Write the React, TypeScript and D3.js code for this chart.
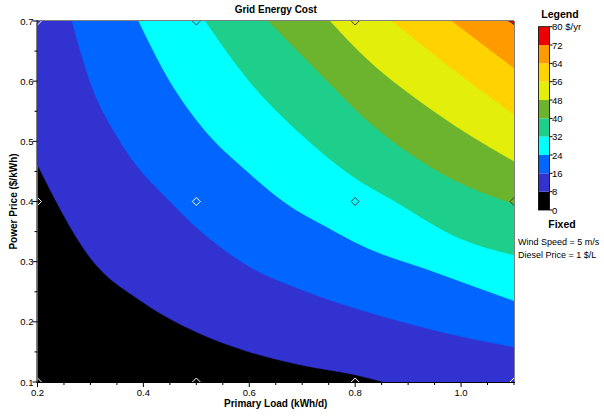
import React from 'react';
import * as d3 from 'd3';

type Pt = [number, number];

// contour levels ($/yr) and legend band colours
const levels = [0, 8, 16, 24, 32, 40, 48, 56, 64, 72, 80];
const bandColors = ['#000000', '#3232d0', '#0066ff', '#00ffff', '#1ecf8c', '#6cb42e', '#e3ef0a', '#ffd200', '#ff9a00', '#ee0000'];

// contour boundaries [load kWh/d, price $/kWh]
const contour8: Pt[] = [[0.2, 0.461], [0.3, 0.306], [0.4, 0.232], [0.5, 0.183], [0.6, 0.15], [0.7, 0.128], [0.8, 0.112], [0.854, 0.1]];
const contour16: Pt[] = [[0.265, 0.7], [0.299, 0.6], [0.356, 0.5], [0.456, 0.395], [0.5, 0.357], [0.6, 0.292], [0.7, 0.253], [0.81, 0.22], [0.95, 0.186], [1.1, 0.158]];
const contour24: Pt[] = [[0.391, 0.7], [0.45, 0.6], [0.507, 0.528], [0.6, 0.447], [0.668, 0.398], [0.75, 0.356], [0.81, 0.328], [0.95, 0.283], [1.1, 0.235]];
const contour32: Pt[] = [[0.517, 0.7], [0.6, 0.6], [0.7, 0.51], [0.8, 0.439], [0.87, 0.403], [1.0, 0.338], [1.1, 0.311]];
const contour40: Pt[] = [[0.636, 0.7], [0.75, 0.598], [0.81, 0.545], [0.957, 0.45], [1.1, 0.396]];
const contour48: Pt[] = [[0.753, 0.7], [0.8, 0.656], [0.957, 0.545], [1.1, 0.467]];
const contour56: Pt[] = [[0.87, 0.7], [0.989, 0.617], [1.1, 0.545]];
const contour64: Pt[] = [[0.983, 0.7], [1.1, 0.622]];
const contour72: Pt[] = [[1.089, 0.7], [1.1, 0.6945]];
const contours = [contour8, contour16, contour24, contour32, contour40, contour48, contour56, contour64, contour72];

// simulated sensitivity points (diamonds)
const simLoads = [0.2, 0.5, 0.8, 1.1];
const simPrices = [0.1, 0.4, 0.7];

const xTickLabels = [0.2, 0.4, 0.6, 0.8, 1.0];
const yTickLabels = [0.1, 0.2, 0.3, 0.4, 0.5, 0.6, 0.7];
const fixedLines = ['Wind Speed = 5 m/s', 'Diesel Price = 1 $/L'];

const W = 604, H = 417;
const FONT = 'Liberation Sans, Arial, sans-serif';

export default function App() {
  const x = d3.scaleLinear().domain([0.2, 1.1]).range([37.5, 514]);
  const y = d3.scaleLinear().domain([0.1, 0.7]).range([382, 21]);
  const [x0, x1] = x.range();
  const [yb, yt] = y.range();

  const line = d3.line<Pt>().x(d => x(d[0])).y(d => y(d[1])).curve(d3.curveMonotoneX);

  const regionPath = (pts: Pt[]) => {
    let p = line(pts) as string;
    const first = pts[0], last = pts[pts.length - 1];
    if (last[1] <= 0.1 + 1e-9) p += `L${x(1.1)},${y(0.1)}`;
    p += `L${x(1.1)},${y(0.7)}`;
    if (first[0] <= 0.2 + 1e-9) p += `L${x(0.2)},${y(0.7)}`;
    return p + 'Z';
  };

  const regionPoly = (pts: Pt[]): [number, number][] => {
    const poly: [number, number][] = pts.map(d => [x(d[0]), y(d[1])]);
    const first = pts[0], last = pts[pts.length - 1];
    if (last[1] <= 0.1 + 1e-9) poly.push([x(1.1), y(0.1)]);
    poly.push([x(1.1), y(0.7)]);
    if (first[0] <= 0.2 + 1e-9) poly.push([x(0.2), y(0.7)]);
    return poly;
  };
  const polys = contours.map(regionPoly);

  const markers: { px: number; py: number; band: number }[] = [];
  simLoads.forEach(l => simPrices.forEach(p => {
    const px = x(l), py = y(p);
    const cx = (x0 + x1) / 2, cy = (yb + yt) / 2;
    const tx = px + Math.sign(cx - px) * 0.6, ty = py + Math.sign(cy - py) * 0.6;
    const band = polys.filter(poly => d3.polygonContains(poly, [tx, ty])).length;
    markers.push({ px, py, band });
  }));

  const xMinor = d3.range(0.2, 1.1001, 0.05).map(v => +v.toFixed(2));
  const yMinor = d3.range(0.1, 0.7001, 0.05).map(v => +v.toFixed(2));
  const isMajorX = (v: number) => xTickLabels.some(t => Math.abs(t - v) < 1e-6);
  const isMajorY = (v: number) => yTickLabels.some(t => Math.abs(t - v) < 1e-6);

  const leg = d3.scaleLinear().domain([0, 80]).range([210, 26.7]);
  const legX = 538.5, legW = 11;

  const d = 4;
  return (
    <svg width={W} height={H} style={{ position: 'absolute', left: 0, top: 0, background: '#fff' }} fontFamily={FONT}>
      <defs>
        <clipPath id="plotclip">
          <rect x={x0} y={yt} width={x1 - x0} height={yb - yt} />
        </clipPath>
      </defs>
      <g clipPath="url(#plotclip)">
        <rect x={x0} y={yt} width={x1 - x0} height={yb - yt} fill={bandColors[0]} />
        {contours.map((c, i) => (
          <path key={i} d={regionPath(c)} fill={bandColors[i + 1]} stroke={bandColors[i + 1]} strokeWidth={0.5} />
        ))}
        {markers.map((m, i) => (
          <path key={i} d={`M${m.px},${m.py - d}L${m.px + d},${m.py}L${m.px},${m.py + d}L${m.px - d},${m.py}Z`}
            fill="none" stroke={m.band >= 3 ? '#3a3a3a' : '#ffffff'} strokeWidth={1} />
        ))}
      </g>
      {/* frame */}
      <line x1={x0} x2={x1} y1={yt - 0.5} y2={yt - 0.5} stroke="#808080" />
      <line x1={x1 + 0.5} x2={x1 + 0.5} y1={yt} y2={yb} stroke="#808080" />
      <line x1={x0 - 0.5} x2={x0 - 0.5} y1={yt - 1} y2={yb + 0.5} stroke="#000" />
      <line x1={x0 - 1} x2={x1 + 1} y1={yb + 0.5} y2={yb + 0.5} stroke="#000" />
      {/* x ticks */}
      {xMinor.map((v, i) => (
        <line key={i} x1={x(v)} x2={x(v)} y1={yb} y2={yb + (isMajorX(v) ? 5 : 3)} stroke="#000" />
      ))}
      {xTickLabels.map((v, i) => (
        <text key={i} x={x(v)} y={395.5} fontSize={9.5} textAnchor="middle" fill="#000">{v.toFixed(1)}</text>
      ))}
      {/* y ticks */}
      {yMinor.map((v, i) => (
        <line key={i} x1={x0 - (isMajorY(v) ? 5 : 3)} x2={x0} y1={y(v)} y2={y(v)} stroke="#000" />
      ))}
      {yTickLabels.map((v, i) => (
        <text key={i} x={33.5} y={y(v) + 3.5} fontSize={9.5} textAnchor="end" fill="#000">{v.toFixed(1)}</text>
      ))}
      {/* titles */}
      <text x={(x0 + x1) / 2} y={13} fontSize={10} fontWeight="bold" textAnchor="middle">Grid Energy Cost</text>
      <text x={(x0 + x1) / 2} y={406.5} fontSize={10} fontWeight="bold" textAnchor="middle">Primary Load (kWh/d)</text>
      <text transform={`translate(17,${(yb + yt) / 2}) rotate(-90)`} fontSize={10} fontWeight="bold" textAnchor="middle">Power Price ($/kWh)</text>
      {/* legend */}
      <text x={560} y={18} fontSize={10.5} fontWeight="bold" textAnchor="middle">Legend</text>
      {bandColors.map((c, i) => (
        <rect key={i} x={legX} y={leg(levels[i + 1])} width={legW} height={leg(levels[i]) - leg(levels[i + 1])} fill={c} />
      ))}
      <rect x={legX} y={leg(80)} width={legW} height={leg(0) - leg(80)} fill="none" stroke="#000" strokeWidth={0.8} />
      {levels.map((v, i) => (
        <g key={i}>
          <line x1={legX + legW} x2={legX + legW + 3} y1={leg(v)} y2={leg(v)} stroke="#000" />
          <text x={legX + legW + 2.5} y={leg(v) + 3.5} fontSize={9.5}>{v === 80 ? '80 $/yr' : String(v)}</text>
        </g>
      ))}
      <text x={562} y={228} fontSize={10.5} fontWeight="bold" textAnchor="middle">Fixed</text>
      {fixedLines.map((t, i) => (
        <text key={i} x={518} y={244.5 + i * 13.5} fontSize={9}>{t}</text>
      ))}
    </svg>
  );
}
